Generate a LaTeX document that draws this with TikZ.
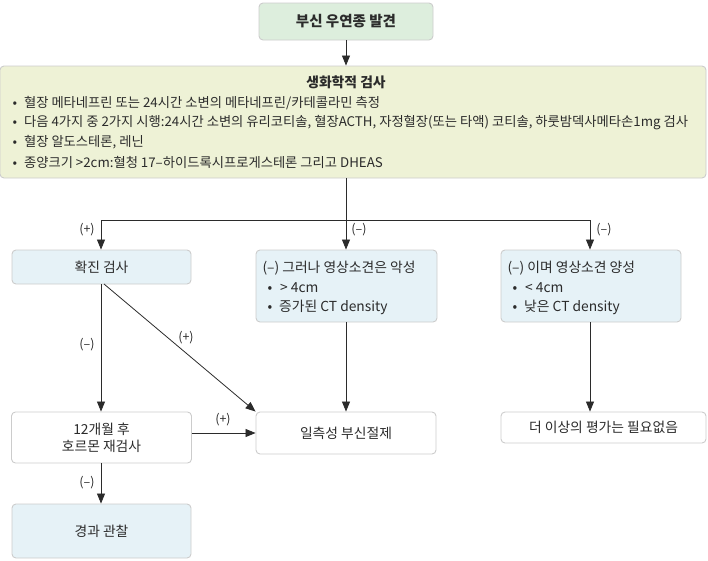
\documentclass[tikz,border=0pt]{standalone}
\usepackage{fontspec}
\setmainfont{Noto Sans CJK KR}
\usetikzlibrary{arrows.meta,positioning}
\definecolor{linec}{HTML}{2B2B2B}
\definecolor{borderc}{HTML}{CCCCCC}
\definecolor{greenfill}{HTML}{DDEEDD}
\definecolor{yellowfill}{HTML}{EEF2D6}
\definecolor{bluefill}{HTML}{E6F2F7}
\tikzset{
  box/.style={draw=borderc, line width=0.9pt, rounded corners=4pt, inner sep=0pt},
  conn/.style={draw=linec, line width=0.8pt, -{Triangle[length=10pt,width=8pt]}},
  plain/.style={draw=linec, line width=0.8pt},
  lbl/.style={font=\fontsize{12.5}{14}\selectfont, text=linec},
  txt/.style={font=\fontsize{13.8}{16}\selectfont, text=linec},
  btxt/.style={font=\fontsize{13.3}{16}\selectfont, text=linec},
}
\begin{document}
\begin{tikzpicture}[x=1pt,y=-1pt]
\useasboundingbox (0,0) rectangle (708,560);
% boxes
\node[box, fill=greenfill, minimum width=174pt, minimum height=37pt, txt, font=\fontsize{14.5}{16}\selectfont\bfseries] (top) at (346,21.5) {부신 우연종 발견};
\node[box, fill=yellowfill, minimum width=706pt, minimum height=112pt] (bio) at (353,122) {};
\node[btxt, font=\fontsize{13.8}{16}\selectfont\bfseries] (biot) at (346,82) {생화학적 검사};
\node[btxt, anchor=west] (b1) at (9,103) {•\hspace{7pt}혈장 메타네프린 또는 24시간 소변의 메타네프린/카테콜라민 측정};
\node[btxt, anchor=west] (b2) at (9,122.5) {•\hspace{7pt}다음 4가지 중 2가지 시행:24시간 소변의 유리코티솔, 혈장ACTH, 자정혈장(또는 타액) 코티솔, 하룻밤덱사메타손1mg 검사};
\node[btxt, anchor=west] (b3) at (9,142) {•\hspace{7pt}혈장 알도스테론, 레닌};
\node[btxt, anchor=west] (b4) at (9,162) {•\hspace{7pt}종양크기 >2cm:혈청 17–하이드록시프로게스테론 그리고 DHEAS};

\node[box, fill=bluefill, minimum width=179pt, minimum height=34pt, txt] (conf) at (101.5,267) {확진 검사};
\node[box, fill=bluefill, minimum width=181pt, minimum height=72pt] (mal) at (346.5,286) {};
\node[txt, anchor=west] (m1) at (259,268) {(–) 그러나 영상소견은 악성};
\node[txt, anchor=west] (m2) at (264,288) {•\hspace{8pt}> 4cm};
\node[txt, anchor=west] (m3) at (264,307) {•\hspace{7pt}증가된 CT density};
\node[box, fill=bluefill, minimum width=180pt, minimum height=72pt] (ben) at (591,286) {};
\node[txt, anchor=west] (r1) at (504,268) {(–) 이며 영상소견 양성};
\node[txt, anchor=west] (r2) at (509,288) {•\hspace{8pt}< 4cm};
\node[txt, anchor=west] (r3) at (509,307) {•\hspace{7pt}낮은 CT density};

\node[box, fill=white, minimum width=180pt, minimum height=51pt, txt, align=center] (re) at (101.5,437.5) {12개월 후\\[1pt]호르몬 재검사};
\node[box, fill=white, minimum width=180pt, minimum height=42pt, txt] (adr) at (346,433) {일측성 부신절제};
\node[box, fill=white, minimum width=205pt, minimum height=31pt, txt] (no) at (603.5,427.5) {더 이상의 평가는 필요없음};
\node[box, fill=bluefill, minimum width=179pt, minimum height=54pt, txt] (obs) at (101.5,531) {경과 관찰};

% connectors
\draw[conn] (top.south) -- (bio.north -| top.south);
\coordinate (split) at (346,220);
\coordinate (splitL) at (101,220);
\coordinate (splitR) at (590,220);
\draw[plain] (bio.south -| top.south) -- (split);
\draw[plain] (splitL) -- (splitR);
\draw[conn] (splitL) -- (splitL |- conf.north);
\draw[conn] (split) -- (split |- mal.north);
\draw[conn] (splitR) -- (splitR |- ben.north);
\node[lbl] (lp1) at (87,230) {(+)};
\node[lbl] (lm1) at (359,230) {(–)};
\node[lbl] (lm2) at (604,230) {(–)};

\draw[conn] (conf.south -| splitL) -- (re.north -| splitL);
\node[lbl] (lm3) at (87,345) {(–)};
\draw[conn] (104,284) -- (adr.north west);
\node[lbl] (lp2) at (186,338) {(+)};
\draw[conn] (mal.south -| split) -- (adr.north -| split);
\draw[conn] (ben.south -| splitR) -- (no.north -| splitR);
\draw[conn] (re.east |- adr.west) -- (adr.west);
\node[lbl] (lp3) at (223,420) {(+)};
\draw[conn] (re.south -| splitL) -- (obs.north -| splitL);
\node[lbl] (lm4) at (87,483) {(–)};
\end{tikzpicture}
\end{document}
